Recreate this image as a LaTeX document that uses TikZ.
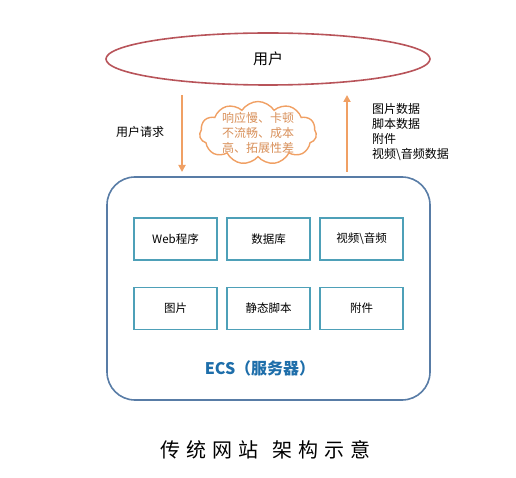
\documentclass[tikz,border=0pt]{standalone}
\usepackage{fontspec}
\setmainfont{Noto Sans CJK SC}
\newfontfamily\titlefont[LetterSpace=30]{Noto Sans CJK SC}
\usetikzlibrary{shapes.geometric,shapes.symbols,arrows.meta}
\definecolor{userred}{RGB}{184,84,90}
\definecolor{ecsblue}{RGB}{88,124,166}
\definecolor{boxteal}{RGB}{78,160,184}
\definecolor{warnorange}{RGB}{240,160,100}
\definecolor{ecstext}{RGB}{30,110,170}
\begin{document}
\begin{tikzpicture}[x=1pt,y=-1pt,
  userell/.style={ellipse,draw=userred,line width=1.6pt,minimum width=324pt,minimum height=52pt,inner sep=0pt,font=\fontsize{15}{18}\selectfont},
  server/.style={draw=ecsblue,line width=1.6pt,rounded corners=28pt,minimum width=323pt,minimum height=223pt,inner sep=0pt},
  compbox/.style={draw=boxteal,line width=1.4pt,minimum width=83pt,minimum height=42pt,inner sep=0pt,font=\fontsize{11.5}{14}\selectfont},
  flow/.style={draw=warnorange,line width=1.8pt,-{Triangle[length=7pt,width=7pt]}},
  warncloud/.style={cloud,draw=warnorange,line width=1.4pt,cloud puffs=11,cloud puff arc=115,aspect=1.9,minimum width=117pt,minimum height=63pt,inner sep=0pt},
  smalltext/.style={font=\fontsize{12}{15}\selectfont,inner sep=0pt}
]
\useasboundingbox (0,0) rectangle (516,478);
\node[userell] (user) at (268,59) {用户};
\node[server] (ecs) at (268.5,288.5) {};
\node[compbox] (web) at (175.5,239) {Web程序};
\node[compbox] (db) at (268.5,239) {数据库};
\node[compbox] (av) at (361.5,239) {视频\textbackslash 音频};
\node[compbox] (pic) at (175.5,308.5) {图片};
\node[compbox] (script) at (268.5,308.5) {静态脚本};
\node[compbox] (att) at (361.5,308.5) {附件};
\node[font=\fontsize{16}{18}\selectfont\bfseries,text=ecstext,inner sep=0pt] (ecslabel) at (260,368) {ECS（服务器）};
\coordinate (dstart) at (182,95);
\coordinate (dend) at (182,172);
\coordinate (ustart) at (347,172);
\coordinate (uend) at (347,95);
\draw[flow] (dstart) -- (dend);
\draw[flow] (ustart) -- (uend);
\node[smalltext,anchor=west] (req) at (116,132) {用户请求};
\node[warncloud] (cl) at (258,133) {};
\node[smalltext,text=warnorange!90!black,align=center,font=\fontsize{12}{15}\selectfont] (cltext) at (cl.center) {响应慢、卡顿\\不流畅、成本\\高、拓展性差};
\node[smalltext,anchor=north west,align=left] (data) at (372,103) {图片数据\\脚本数据\\附件\\视频\textbackslash 音频数据};
\node[font=\titlefont\fontsize{20}{24}\selectfont,inner sep=0pt,anchor=west] (title) at (160,450) {传统网站\hspace{14pt}架构示意};
\end{tikzpicture}
\end{document}
